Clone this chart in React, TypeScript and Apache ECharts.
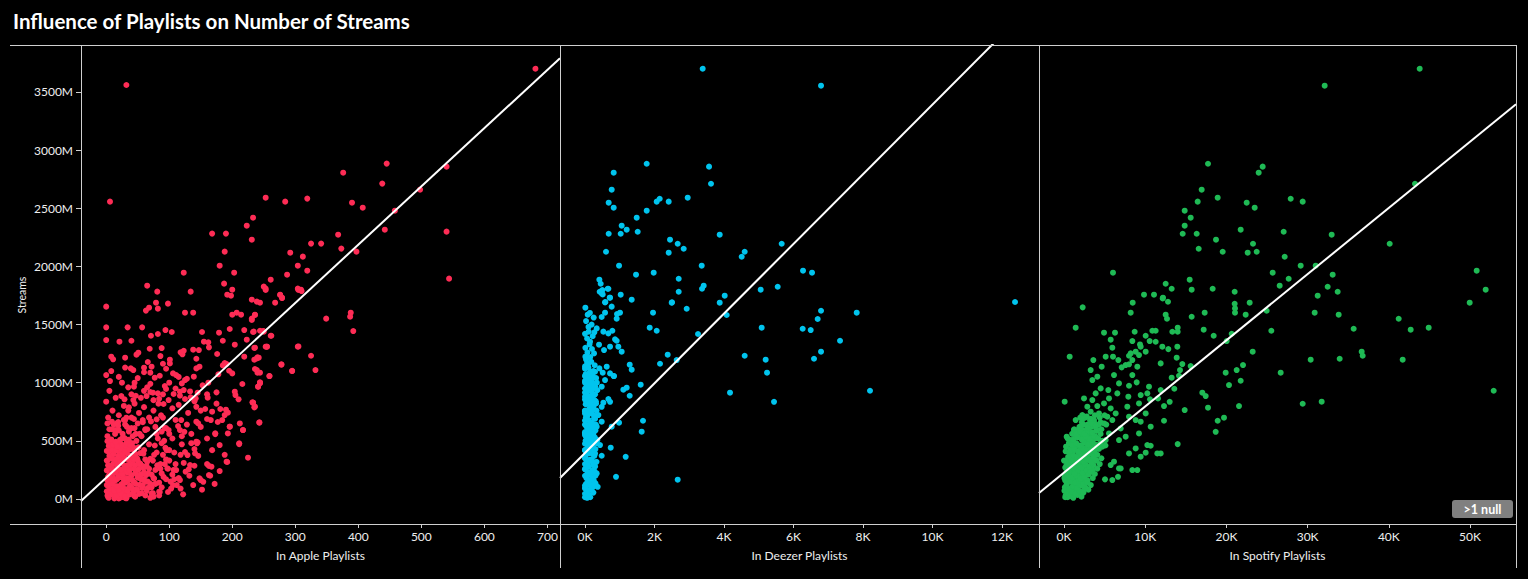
import { useEffect, useRef } from "react";
import * as echarts from "echarts";

const TITLE = "Influence of Playlists on Number of Streams";
const Y_NAME = "Streams";
const NULL_NOTE = ">1 null";

const Y_TICKS = [0, 500, 1000, 1500, 2000, 2500, 3000, 3500];
const Y_RANGE = [-215, 3904];

const APPLE_TICKS = [0, 100, 200, 300, 400, 500, 600, 700];
const DEEZER_TICKS = [0, 2000, 4000, 6000, 8000, 10000, 12000];
const SPOTIFY_TICKS = [0, 10000, 20000, 30000, 40000, 50000];

const APPLE_RANGE = [-40, 720];
const DEEZER_RANGE = [-720, 13065];
const SPOTIFY_RANGE = [-3079, 55663];

const PANEL_NAMES = ["In Apple Playlists", "In Deezer Playlists", "In Spotify Playlists"];
const PANEL_COLORS = ["#fe2c55", "#00c4ee", "#1fba55"];

// linear trend (streams in millions = intercept + slope * playlists)
const TREND_SLOPES = [5.01, 0.2996, 0.0569];
const TREND_INTERCEPTS = [183, 396, 227];

// [in apple playlists, streams (M)]
const APPLE_POINTS: [number, number][] = [
  [681,3700],[32,3560],[6,2557],[376,2806],[445,2884],[438,2712],[540,2858],[498,2660],[458,2479],[390,2548],[407,2505],
  [253,2591],[284,2557],[319,2583],[233,2419],[223,2350],[231,2230],[168,2282],[190,2282],[188,2127],[325,2196],[341,2196],
  [368,2273],[373,2153],[442,2316],[540,2299],[397,2127],[544,1895],[292,2118],[312,2084],[304,2006],[319,1963],[287,1929],
  [180,2006],[203,1946],[187,1852],[200,1800],[192,1757],[198,1748],[261,1886],[250,1826],[253,1809],[304,1809],[309,1800],
  [276,1757],[279,1731],[231,1714],[239,1697],[244,1688],[268,1688],[123,1946],[134,1783],[65,1834],[81,1783],[79,1688],
  [82,1637],[63,1620],[68,1645],[98,1680],[0,1654],[125,1602],[138,1602],[200,1585],[207,1602],[214,1585],[236,1585],
  [231,1551],[349,1551],[388,1602],[387,1568],[0,1476],[34,1476],[57,1476],
  [253,1797],[276,1754],[279,1728],[305,1797],[310,1788],[236,1582],[392,1444],[234,1439],[244,1447],[250,1439],[262,1404],
  [236,1301],[255,1310],[304,1310],[325,1232],[239,1209],[242,1215],[278,1155],[295,1103],[332,1109],[239,1109],[244,1086],
  [259,1057],[244,1000],[241,966],[233,828],[236,794],[243,656],
  [0,1367],[21,1353],[40,1361],[71,1404],[82,1419],[94,1453],[104,1436],[152,1436],[179,1430],[196,1462],[219,1453],[233,1436],
  [249,1445],[261,1404],[231,1539],[155,1353],[185,1361],[204,1327],[223,1370],[235,1299],[255,1310],
  [8,1224],[11,1201],[30,1215],[51,1258],[48,1241],[69,1292],[88,1298],[86,1229],[101,1198],[118,1261],[121,1244],[123,1275],
  [138,1284],[147,1281],[143,1206],[162,1347],[163,1304],[176,1247],[188,1169],[185,1149],[191,1161],[219,1224],[235,1198],
  [240,1218],[253,1310],
  [0,1066],[6,1014],[39,1123],[43,1109],[60,1129],[66,1178],[72,1138],[70,1086],[77,1043],[90,1163],[101,1166],[106,1080],
  [111,1066],[125,1023],[120,994],[128,1034],[139,1052],[143,1123],[148,1138],[162,1000],[178,1072],[195,1103],[200,1080],
  [216,989],[236,1118],[240,1086],[244,1003],[241,966],[259,1057],[278,1158],[295,1100],[305,1312],
  [0,837],[44,966],[24,885],[29,857],[36,788],[47,888],[43,851],[64,885],[70,920],[74,914],[82,908],[84,862],[93,971],[95,946],
  [99,851],[91,817],[107,903],[117,888],[117,923],[123,937],[133,925],[134,874],[142,865],[143,793],[145,914],[153,977],
  [161,871],[175,917],[168,751],[157,774],[181,774],[190,768],[193,742],[204,923],[205,894],[210,857],[232,831],[235,788],
  [2,650],[9,665],[14,593],[19,662],[32,699],[30,679],[44,688],[58,679],[62,593],[71,667],[80,685],[87,719],[93,610],[99,593],
  [114,627],[117,593],[124,578],[119,679],[143,665],[146,650],[160,688],[166,679],[177,662],[184,679],[188,722],[196,622],
  [173,558],[193,564],[212,650],[217,593],[243,659],[211,472],[225,355],[192,318],[167,278],[163,206],[150,163],[154,148],
  [145,487],[141,392],[133,292],[131,255],[140,286],
  [244,995],[233,828],[217,593],[211,479],[191,321],[196,622],[173,565],[180,464],[163,284],[165,200],[148,178],[106,120],
  [75,20],[84,63],[32,6],[20,5],[143,493],[144,479],[125,404],[129,378],[111,249],[97,264],[126,235],[117,163],[76,175],
  [63,149],[72,49],
  [2,30],[5,80],[8,140],[3,190],[10,45],[12,230],[6,270],[14,110],[1,330],[9,360],[15,300],[4,410],[11,450],[7,500],[2,540],
  [18,25],[20,95],[17,170],[22,210],[19,260],[24,320],[21,380],[16,430],[23,470],[25,520],
  [27,15],[29,60],[26,130],[31,180],[28,245],[33,290],[30,345],[27,400],[32,455],[35,510],
  [36,40],[38,105],[34,155],[40,200],[37,265],[42,310],[39,370],[44,420],[41,480],
  [46,20],[48,85],[45,140],[50,190],[47,240],[52,300],[49,350],[54,395],[51,445],
  [56,50],[58,120],[55,170],[60,230],[57,285],[62,340],[59,390],
  [64,70],[66,150],[63,205],[68,260],[65,320],[70,10],
  [4,10],[13,5],[22,12],[31,8],[8,60],[17,55],[26,70],[35,90],[43,60],[1,120],[12,175],[25,195],[34,230],[6,215],[15,250],
  [29,285],[38,335],[3,290],[18,340],[24,365],[11,395],[20,415],[30,440],[7,465],[16,490],[26,560],[36,580],[9,600],[19,630],
  [42,540],[48,500],[53,560],[45,610],[33,620],
  [72,100],[75,180],[78,250],[74,330],[80,400],[77,460],[84,140],[88,220],[86,300],[90,380],[82,520],[95,170],[98,260],
  [94,440],[100,330],[105,210],[103,90],[110,300],[115,180],[108,400],
  [3,700],[10,760],[20,720],[28,800],[35,760],[45,820],[52,740],[60,790],[68,700],[75,760],[83,820],[90,700],[15,870],[40,900],
  [55,870],[65,960],[5,930],[25,1000],[50,1040],[70,990],[85,1060],[100,1000],[110,950],[125,860],[130,740],[105,780],
  [115,810],[95,610],[80,560],[65,600],[50,650],[40,610],[30,640],[20,590],[12,640],
  [3,18],[9,42],[16,28],[23,47],[30,22],[37,39],[44,30],[52,44],
  [1,66],[7,88],[13,72],[20,81],[27,96],[34,70],[41,92],[49,78],[57,95],
  [4,118],[10,132],[17,110],[24,126],[31,141],[38,115],[46,133],[53,122],
  [2,158],[8,174],[15,161],[21,185],[28,166],[35,179],[42,160],[50,184],[58,171],
  [5,205],[12,222],[19,198],[26,214],[33,229],[40,207],[47,221],[55,211],
  [1,246],[9,261],[16,240],[23,255],[30,268],[37,247],[44,262],[51,252],[59,266],
  [4,287],[11,302],[18,293],[25,309],[32,284],[39,299],[46,290],[54,305],
  [2,330],[8,348],[15,337],[22,326],[29,352],[36,335],[43,347],[50,330],
  [5,372],[12,387],[19,366],[26,381],[33,394],[40,374],[47,386],
  [1,413],[9,428],[16,418],[23,436],[30,411],[37,427],[44,440],
  [4,456],[11,470],[18,452],[25,466],[32,480],[39,462],
  [2,497],[8,512],[15,492],[22,508],[29,524],[36,500],
  [62,30],[66,95],[61,160],[67,220],[64,285],[70,345],[60,420],[68,470],[74,50],[78,130],[72,210],[81,290],[76,380],[84,30],
  [88,100],[91,190],[86,260],[95,340],[98,60],[102,150],[96,420],[107,250],[112,120],[118,380],[122,40],[92,500],[56,540],
  [47,560],[62,600],[14,560],[5,600],[28,680],[17,650],[40,700],[58,660],[78,620],[88,580],[105,520],[120,470],[135,560],
  [128,640],[110,680],[140,430],[150,620],[160,520],[150,760],[140,840],[160,900],[175,820],[90,900],[75,850],[60,930],
  [35,960],[20,1050],[45,1000],[8,1100],[30,1130],[60,1090],[95,1120],[115,1050],
  [70,130],[85,60],[93,300],[100,420],[108,170],[118,90],[123,310],[132,200],[138,120],[146,370],[152,80],[160,300],
  [168,420],[172,130],[180,240],[188,380],[120,540],[135,480],[88,480],[100,560],
];

// [in deezer playlists, streams (M)]
const DEEZER_POINTS: [number, number][] = [
  [3386,3700],[6792,3554],[1775,2883],[825,2806],[3569,2858],[3626,2711],[768,2660],[681,2548],[825,2505],[2063,2557],
  [2149,2582],[2408,2557],[2955,2591],[1775,2479],[1487,2419],[1055,2350],[1199,2316],[681,2281],[1027,2281],[1516,2298],
  [3876,2273],[604,2126],[2446,2230],[2667,2195],[2840,2152],[2408,2118],[4509,2083],[4595,2126],[5660,2195],[979,2006],
  [1468,1929],[1976,1946],[3358,2006],[2696,1894],[2696,1782],[3367,1808],[3415,1834],[6274,1963],[6533,1946],[5055,1800],
  [5545,1825],[4020,1748],[3876,1688],[413,1886],[451,1851],[672,1808],[422,1782],[508,1759],[720,1731],[576,1691],
  [1027,1757],[1343,1714],[2504,1691],
  [4077,1582],[6792,1619],[6696,1548],[7819,1602],[6264,1464],[6495,1453],[5084,1473],[7339,1361],[6792,1267],[6590,1206],
  [4595,1232],[5199,1198],[5238,1086],[4173,914],[5439,836],[8202,931],[3252,1419],[2379,1241],[2638,1195],[2158,1163],
  [1861,1473],[2063,1447],[1957,1602],[2494,1688],[2926,1636],[1602,983],[1103,940],[1199,957],[1286,1155],[1343,1112],
  [1286,888],[1669,673],[1631,579],[979,656],[768,622],[739,441],[480,372],[1170,363],[892,191],[365,105],[2667,166],
  [835,1057],[720,836],[672,859],[10,1645],[77,1585],[499,1797],[652,1808],[480,1768],[585,1694],[710,1731],[767,1654],
  [576,1602],[480,1565],[911,1551],[1007,1602],[921,1591],
  [105,1439],[269,1433],[336,1467],[528,1439],[672,1424],[787,1447],[864,1373],[911,1361],[959,1310],[1055,1267],[720,1310],
  [547,1281],[403,1327],[259,1252],[144,1353],
  [10,1224],[48,1138],[0,1057],[202,1052],[288,1094],[413,1123],[509,1086],[624,1138],[720,1080],[825,1057],[576,1023],
  [480,966],[355,937],[192,966],[48,908],[0,880],[106,851],[317,822],[480,793],[528,828],
  [0,736],[192,750],[384,722],[480,665],[336,622],[96,636],[0,564],[240,564],[355,507],[144,478],[0,421],[288,392],[432,464],
  [192,335],[48,278],[336,220],[144,163],[0,91],[240,105],[96,19],[12375,1694],
  [20,20],[60,60],[10,100],[90,140],[40,180],[120,220],[5,260],[70,300],[150,340],[30,380],[100,420],[180,460],[15,500],
  [80,540],[140,580],[50,620],[200,660],[25,700],[110,740],[170,780],[60,820],[230,860],[35,900],[130,940],[80,980],
  [190,1020],[10,1060],[240,1100],
  [110,30],[170,80],[30,130],[200,170],[130,210],[240,250],[50,290],[190,330],[260,370],[90,410],[220,450],[140,490],
  [280,530],[40,570],[250,610],[170,650],[290,690],[95,730],[220,770],[140,810],[270,850],[70,890],[200,930],[290,970],
  [150,1010],[55,1050],
  [0,45],[140,120],[250,160],[0,200],[200,240],[290,280],[100,320],[0,350],[230,390],[300,430],[60,470],[260,510],[120,550],
  [300,590],[0,640],[100,680],[260,720],[0,760],[190,800],[310,840],[120,870],[0,950],[240,990],[320,1040],[120,1080],
  [0,1000],[0,550],[0,420],[0,300],[60,10],[150,15],[80,230],[180,120],[300,200],[330,320],[330,480],[310,640],[330,760],
  [290,900],[340,1000],[280,1150],[180,1180],[60,1170],[0,1120],[100,1130],
  [0,15],[120,35],[240,55],[60,75],[180,95],[0,115],[300,135],[100,155],[220,175],[40,195],[160,215],[280,235],[0,255],
  [110,275],[230,295],[50,315],[170,335],[0,355],[270,375],[130,395],[10,415],[200,435],[80,455],[0,475],[250,495],[140,515],
  [30,535],[190,555],[0,575],[90,595],[220,615],[20,635],[150,655],[0,675],[260,695],[60,715],[180,735],[0,755],[120,775],
  [240,795],[20,815],[160,835],[0,855],[80,875],[210,895],[0,915],[130,935],[260,955],[50,975],[170,995],[0,1015],[100,1035],
  [230,1055],[20,1075],[150,1095],[0,1140],[90,1160],[30,1200],[150,1220],[70,1260],[200,1290],[10,1300],[130,1330],
  [60,1380],[220,1400],[0,1420],[100,1480],[190,1500],[30,1530],[250,1560],[140,1600],
];

// [in spotify playlists, streams (M)]
const SPOTIFY_POINTS: [number, number][] = [
  [43800,3700],[32101,3554],[17734,2883],[24465,2858],[23973,2806],[16953,2660],[16461,2557],[18924,2591],[14860,2479],
  [15599,2419],[14860,2350],[14614,2281],[16337,2281],[16584,2152],[18719,2230],[19540,2126],[21756,2316],[22495,2548],
  [23481,2505],[27914,2582],[29392,2557],[27052,2298],[23276,2195],[22618,2118],[23727,2126],[27175,2083],[32964,2273],
  [43225,2711],[40105,2195],[29145,2006],[30992,2006],[25697,1946],[26560,1834],[27668,1894],[33086,1929],[32470,1825],
  [31239,1748],[33702,1782],[33825,1585],[50820,1963],[51929,1800],[49959,1688],[35672,1464],[41214,1550],[42692,1456],
  [44909,1473],[30869,1602],[24958,1619],[25533,1447],[21018,1782],[21018,1679],[21058,1639],[21058,1602],[22864,1688],
  [22372,1585],[18308,1808],[15722,1800],[15476,1886],[17323,1602],[15722,1567],[17200,1456],[18432,1404],[20649,1421],
  [12520,1851],[13259,1808],[12191,1731],[12807,1696],[12520,1585],[12684,1550],[9852,1757],[11083,1757],[8456,1688],
  [8210,1602],[6034,1946],[2299,1648],[1437,1473],[4926,1430],[6280,1430],[5747,1370],[8703,1438],[10057,1404],[8415,1358],
  [9359,1329],[10878,1447],[11289,1447],[10549,1358],[11289,1352],[13341,1438],[14000,1473],[14000,1438],
  [23234,1267],[30377,1198],[33948,1206],[36658,1267],[36781,1232],[41707,1198],[26683,1086],[29392,819],[31732,837],
  [52913,931],
  [698,1224],[82,837],[328,536],[12151,1725],[20034,1358],[19909,1086],[21264,1109],[20320,980],[21756,1017],[22044,1152],
  [21551,799],[17036,914],[17446,885],[17734,785],[14860,765],[18924,673],[19704,699],[18678,578],[14000,472],[15599,1143],
  [14572,1160],[14285,1109],[14162,1060],[13259,1043],[13588,948],[13012,836],[12315,799],[12315,673],[13957,1310],
  [13875,1215],[12848,1289],[12110,1310],[11904,1166],[11904,937],[11576,865],[10591,857],[9441,1310],[8825,1267],
  [10057,1267],[8210,1252],[8415,1195],[9236,1238],[9030,1138],[8005,1158],[8415,1066],[8949,1003],[8005,974],[7923,880],
  [9441,894],[10263,908],[10468,966],[9236,822],[7800,794],[8005,708],[10057,736],[9441,665],[8825,679],[10673,622],
  [9236,564],[10263,464],[10673,458],[11494,392],[11904,392],[10057,398],[9441,364],[8825,435],[8005,392],[6978,263],
  [6773,263],[8415,249],[9030,249],[5747,292],[6157,321],[5049,169],[5952,163],[6650,191],
  [5952,1301],[5131,1224],[3612,1195],[4639,1138],[3284,1109],[3489,1023],[4105,1052],[6034,1224],[6691,1195],[7101,1132],
  [8005,1232],[7594,1152],[6157,1066],[6773,994],[6568,908],[5459,937],[5542,865],[4515,951],[3899,908],[2463,865],
  [3489,851],[2874,794],[4105,799],[4926,822],[5747,779],[6363,736],[5336,708],[4310,736],[3284,751],[2258,722],[1437,679],
  [2053,622],[3079,622],[3694,679],[4926,650],[5952,679],[6978,607],[5542,564],[6773,507],[7594,536],[5131,507],[4721,450],
  [3899,536],[2874,536],[2053,536],[1231,593],[821,507],[1642,464],
  [200,30],[600,60],[1000,20],[1400,90],[300,120],[800,150],[1200,130],[1800,110],[100,200],[500,230],[900,210],[1500,190],
  [2000,170],[2400,150],[300,290],[700,310],[1100,280],[1700,260],[2200,240],[2800,230],[500,360],[1000,380],[1400,340],
  [1900,320],[2500,300],[3100,280],[200,410],[800,430],[1300,420],[1800,400],[2300,380],[2900,360],[3400,340],[600,480],
  [1100,500],[1600,470],[2100,460],[2700,440],[3200,420],[1000,560],[1500,540],[2000,530],[2600,510],[3100,490],[3700,470],
  [1800,600],[2400,590],[3000,570],[3500,550],[2200,660],[2900,640],[3400,620],[4000,600],[4500,560],
  [50,70],[450,15],[850,95],[1250,60],[1650,170],[150,160],[650,180],[1050,170],[1550,120],[2050,210],[350,240],[750,260],
  [1250,230],[1750,200],[2350,200],[0,330],[400,330],[950,330],[1550,300],[2050,280],[2650,270],[250,450],[700,400],
  [1200,370],[1700,360],[2150,350],[2650,340],[3300,400],[450,520],[900,470],[1400,450],[1950,420],[2450,410],[3000,400],
  [1250,600],[1700,580],[2200,560],[2750,540],[3300,520],[3900,520],[2000,700],[2600,700],[3200,680],[3700,660],[4300,640],
  [4700,500],[5100,460],[4200,440],[3700,400],[3100,330],[2500,90],[3500,250],[4000,330],[1900,40],[2900,160],
  [150,15],[650,25],[1150,10],[1650,35],[2150,20],[400,50],[900,65],[1400,45],[1900,70],[2400,55],
  [100,100],[600,85],[1100,110],[1600,95],[2100,120],[2600,105],[3000,80],
  [350,135],[850,150],[1350,140],[1850,155],[2350,130],[2850,145],[3300,120],
  [50,180],[550,195],[1050,185],[1550,200],[2050,175],[2550,190],[3050,210],[3550,180],
  [300,225],[800,240],[1300,220],[1800,245],[2300,225],[2800,250],[3300,235],[3800,215],
  [150,270],[650,285],[1150,265],[1650,290],[2150,270],[2650,295],[3150,275],[3650,290],[4100,260],
  [400,315],[900,330],[1400,310],[1900,335],[2400,320],[2900,340],[3400,315],[3900,335],[4400,300],
  [600,365],[1100,380],[1600,360],[2100,385],[2600,370],[3100,390],[3600,365],[4100,380],[4600,350],
  [800,415],[1300,430],[1800,410],[2300,435],[2800,420],[3300,440],[3800,415],[4300,430],
  [1000,465],[1500,480],[2000,460],[2500,485],[3000,470],[3500,490],[4000,465],[4500,480],
  [1200,515],[1700,530],[2200,510],[2700,535],[3200,515],[3700,540],[4200,520],
  [1500,560],[2000,580],[2500,560],[3000,590],[3500,570],[4000,585],[4600,600],
  [1900,620],[2400,640],[2900,615],[3400,650],[3900,630],[4500,660],[5200,640],
  [2300,690],[2800,710],[3300,690],[3800,720],[4400,700],[5000,720],
];

const PANELS = [
  { points: APPLE_POINTS, ticks: APPLE_TICKS, range: APPLE_RANGE, fmt: (v: number) => String(v) },
  { points: DEEZER_POINTS, ticks: DEEZER_TICKS, range: DEEZER_RANGE, fmt: (v: number) => `${v / 1000}K` },
  { points: SPOTIFY_POINTS, ticks: SPOTIFY_TICKS, range: SPOTIFY_RANGE, fmt: (v: number) => `${v / 1000}K` },
];

const GRID_LEFTS = [81, 560, 1039];
const GRID_WIDTHS = [479, 479, 477];
const GRID_TOP = 45;
const GRID_HEIGHT = 479;
const FRAME = "#cfcfcf";
const TEXT = "#eeeeee";
const FONT = "Lato, 'Open Sans', sans-serif";

export default function App() {
  const ref = useRef<HTMLDivElement>(null);

  useEffect(() => {
    document.body.style.margin = "0";
    document.body.style.background = "#000";
    if (!ref.current) return;
    const chart = echarts.init(ref.current, null, { renderer: "svg" });

    const grids = PANELS.map((_, i) => ({
      left: GRID_LEFTS[i],
      top: GRID_TOP,
      width: GRID_WIDTHS[i],
      height: GRID_HEIGHT,
      containLabel: false,
    }));

    const xAxes = PANELS.map((p, i) => ({
      gridIndex: i,
      type: "value",
      min: p.range[0],
      max: p.range[1],
      name: PANEL_NAMES[i],
      nameLocation: "middle",
      nameGap: 25,
      nameTextStyle: { color: TEXT, fontSize: 12, fontFamily: FONT },
      axisLine: { show: false, onZero: false },
      splitLine: { show: false },
      axisTick: { show: true, length: 4, lineStyle: { color: FRAME }, customValues: p.ticks },
      axisLabel: {
        color: TEXT,
        fontSize: 12,
        fontFamily: FONT,
        margin: 6,
        customValues: p.ticks,
        formatter: (v: number) => p.fmt(v),
      },
    }));

    const yAxes = PANELS.map((_, i) => ({
      gridIndex: i,
      type: "value",
      min: Y_RANGE[0],
      max: Y_RANGE[1],
      show: i === 0,
      axisLine: { show: false, onZero: false },
      splitLine: { show: false },
      axisTick: { show: i === 0, length: 5, lineStyle: { color: FRAME }, customValues: Y_TICKS },
      axisLabel: {
        show: i === 0,
        color: TEXT,
        fontSize: 12,
        fontFamily: FONT,
        margin: 8,
        customValues: Y_TICKS,
        formatter: (v: number) => `${v}M`,
      },
    }));

    const scatterSeries = PANELS.map((p, i) => ({
      type: "scatter",
      xAxisIndex: i,
      yAxisIndex: i,
      data: p.points,
      symbol: "circle",
      symbolSize: 6,
      itemStyle: { color: PANEL_COLORS[i], opacity: 1 },
      z: 2,
      silent: true,
    }));

    const trendSeries = PANELS.map((p, i) => ({
      type: "line",
      xAxisIndex: i,
      yAxisIndex: i,
      data: [
        [p.range[0], TREND_INTERCEPTS[i] + TREND_SLOPES[i] * p.range[0]],
        [p.range[1], TREND_INTERCEPTS[i] + TREND_SLOPES[i] * p.range[1]],
      ],
      symbol: "none",
      clip: true,
      lineStyle: { color: "#ffffff", width: 2 },
      z: 5,
      silent: true,
    }));

    const frameLines: any[] = [
      { type: "line", shape: { x1: 10, y1: 45.5, x2: 1516, y2: 45.5 } },
      { type: "line", shape: { x1: 10, y1: 524.5, x2: 1516, y2: 524.5 } },
      { type: "line", shape: { x1: 81.5, y1: 45, x2: 81.5, y2: 568 } },
      { type: "line", shape: { x1: 560.5, y1: 45, x2: 560.5, y2: 568 } },
      { type: "line", shape: { x1: 1039.5, y1: 45, x2: 1039.5, y2: 568 } },
      { type: "line", shape: { x1: 1516.5, y1: 45, x2: 1516.5, y2: 568 } },
    ].map((l) => ({ ...l, z: 10, style: { stroke: FRAME, lineWidth: 1 } }));

    chart.setOption({
      animation: false,
      backgroundColor: "#000000",
      textStyle: { fontFamily: FONT },
      title: {
        text: TITLE,
        left: 13,
        top: 10,
        padding: 0,
        textStyle: { color: "#ffffff", fontSize: 20.5, fontWeight: "bold", fontFamily: FONT },
      },
      grid: grids,
      xAxis: xAxes,
      yAxis: yAxes,
      series: [...scatterSeries, ...trendSeries],
      graphic: [
        ...frameLines,
        {
          type: "text",
          x: 22,
          y: 295,
          rotation: Math.PI / 2,
          style: {
            text: Y_NAME,
            fill: TEXT,
            font: `10.5px ${FONT}`,
            textAlign: "center",
            textVerticalAlign: "middle",
          },
        },
        {
          type: "rect",
          shape: { x: 1452, y: 500, width: 61, height: 18, r: 3 },
          style: { fill: "#808080" },
          z: 20,
        },
        {
          type: "text",
          x: 1482.5,
          y: 509.5,
          z: 21,
          style: {
            text: NULL_NOTE,
            fill: "#ffffff",
            font: `bold 12.5px ${FONT}`,
            textAlign: "center",
            textVerticalAlign: "middle",
          },
        },
      ],
    });

    return () => chart.dispose();
  }, []);

  return <div ref={ref} style={{ width: 1528, height: 579, background: "#000" }} />;
}
